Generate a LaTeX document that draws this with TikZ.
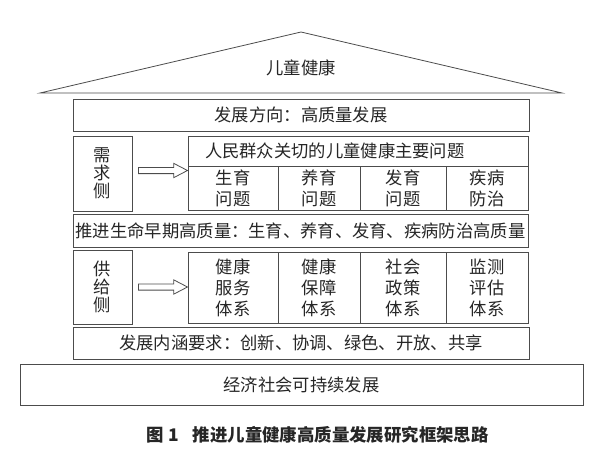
\documentclass[tikz,border=0pt]{standalone}
\usepackage{fontspec}
\newfontfamily\cjk{Noto Sans CJK SC}
\usepackage{tikz}
\usetikzlibrary{positioning,shapes.arrows}
\tikzset{
    %Define standard font
    font=\cjk\fontsize{17.3}{21}\selectfont,
    %Define style for wide boxes
    band/.style={
           rectangle,
           draw=black!70, line width=0.8pt,
           text=black!85,
           inner sep=0pt, outer sep=0pt,
           minimum height=32pt},
    % Define style for grid cells
    zelle/.style={band, align=center},
    % Define style for the side boxes
    seite/.style={band, align=center, minimum width=59pt,
           font=\cjk\fontsize{17.3}{18}\selectfont},
    % Define hollow arrow style
    hohlpfeil/.style={
           single arrow,
           draw=black!70, line width=0.8pt,
           minimum height=49pt,
           inner xsep=0pt, inner ysep=2.7pt,
           single arrow head extend=4pt,
           single arrow tip angle=55}
}

\begin{document}
\begin{tikzpicture}[x=1pt,y=-1pt]
  \useasboundingbox (0,0) rectangle (600,467);
  % roof
  \draw[draw=black!70, line width=0.8pt] (40,93) -- (301,32) -- (562,93) -- cycle;
  \node[text=black!85] (et) at (301,68) {儿童健康};
  \node[band, minimum width=456pt] (fx) at (301,115) {发展方向：高质量发展};
  % demand side
  \node[seite, minimum height=75pt] (xq) at (102.5,173.5) {需\\求\\侧};
  \node[band, minimum width=340pt, minimum height=30pt, align=left, text width=306pt] (wt) at (358,151) {人民群众关切的儿童健康主要问题};
  \node[zelle, minimum width=90pt, minimum height=44pt, anchor=north west] (sy) at (wt.south west) {生育\\问题};
  \node[zelle, minimum width=82pt, minimum height=44pt] (yy) [right=0pt of sy] {养育\\问题};
  \node[zelle, minimum width=86pt, minimum height=44pt] (fy) [right=0pt of yy] {发育\\问题};
  \node[zelle, minimum width=82pt, minimum height=44pt] (jb) [right=0pt of fy] {疾病\\防治};
  \node[band, minimum width=455pt, minimum height=33pt] (tj) at (300.5,230.5) {推进生命早期高质量：生育、养育、发育、疾病防治高质量};
  % supply side
  \node[seite, minimum height=74pt] (gj) at (102.5,287) {供\\给\\侧};
  \node[zelle, minimum width=90pt, minimum height=71pt, anchor=north west] (fw) at (188,252) {健康\\服务\\体系};
  \node[zelle, minimum width=82pt, minimum height=71pt] (bz) [right=0pt of fw] {健康\\保障\\体系};
  \node[zelle, minimum width=86pt, minimum height=71pt] (zc) [right=0pt of bz] {社会\\政策\\体系};
  \node[zelle, minimum width=82pt, minimum height=71pt] (pg) [right=0pt of zc] {监测\\评估\\体系};
  \node[band, minimum width=456pt] (nh) at (301,343) {发展内涵要求：创新、协调、绿色、开放、共享};
  \node[band, minimum width=563pt, minimum height=41pt] (jj) at (301.5,384.5) {经济社会可持续发展};
  \path
    ([yshift=3pt]xq.east) -- ([yshift=3pt]xq.east -| sy.west) node[midway, hohlpfeil] (p1) {}
    (gj.east) -- (gj.east -| fw.west) node[midway, hohlpfeil] (p2) {};
  % caption
  \node[anchor=west, text=black!85, font=\cjk\bfseries\fontsize{17.4}{20}\selectfont] (bt) at (143,435) {图\hspace{0.25em}1\hspace{0.8em}推进儿童健康高质量发展研究框架思路};
\end{tikzpicture}
\end{document}
